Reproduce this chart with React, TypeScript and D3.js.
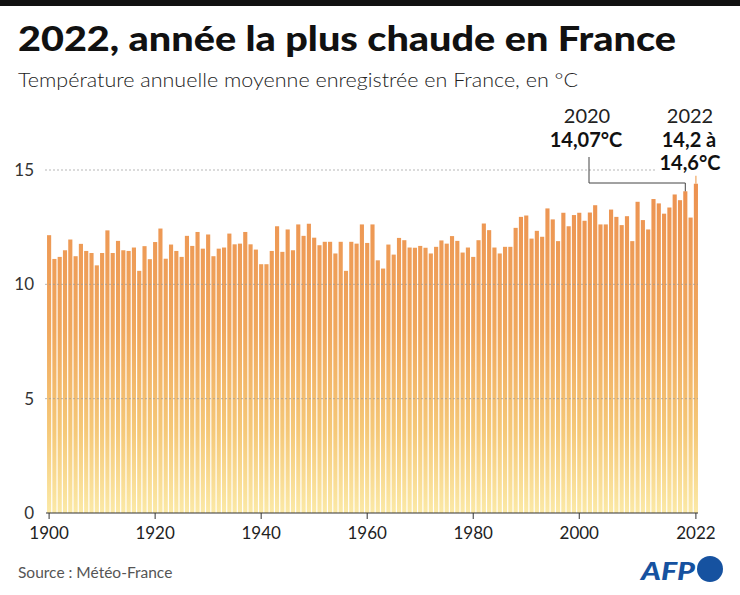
import React from "react";
import * as d3 from "d3";

const years: number[] = d3.range(1900, 2023);
const temps: number[] = [
  12.15, 11.11, 11.2, 11.49, 11.96, 11.23, 11.77, 11.46, 11.37, 10.83,
  11.37, 12.36, 11.37, 11.9, 11.49, 11.46, 11.61, 10.59, 11.67, 11.1,
  11.85, 12.44, 11.12, 11.74, 11.46, 11.2, 12.12, 11.68, 12.29, 11.56,
  12.18, 11.23, 11.56, 11.61, 12.22, 11.75, 11.78, 12.29, 11.75, 11.52,
  10.88, 10.88, 11.46, 12.54, 11.42, 12.4, 11.49, 12.62, 12.12, 12.65,
  12.04, 11.71, 11.86, 11.86, 11.35, 11.86, 10.59, 11.86, 11.78, 12.62,
  11.81, 12.62, 11.05, 10.69, 11.74, 11.3, 12.03, 11.93, 11.61, 11.6,
  11.68, 11.6, 11.35, 11.64, 11.92, 11.78, 12.11, 11.9, 11.39, 11.61,
  11.2, 11.93, 12.66, 12.37, 11.61, 11.35, 11.64, 11.64, 12.47, 12.95,
  13.01, 12.0, 12.34, 12.08, 13.32, 12.84, 11.89, 13.13, 12.54, 13.03,
  13.13, 12.78, 13.14, 13.46, 12.62, 12.62, 13.27, 12.95, 12.59, 12.98,
  11.89, 13.61, 12.81, 12.4, 13.73, 13.54, 13.09, 13.36, 13.93, 13.68,
  14.07, 12.92, 14.4,
];
const yTicks: number[] = [0, 5, 10, 15];
const xTickYears: number[] = [1900, 1920, 1940, 1960, 1980, 2000, 2022];
const range2022Top: number = 14.75;

const W = 740;
const H = 595;

export default function App() {
  const x = d3
    .scaleBand<number>()
    .domain(years)
    .range([46.5, 698.5])
    .paddingInner(0.22)
    .paddingOuter(0.1);
  const y = d3.scaleLinear().domain([0, 15]).range([513, 170]);
  const cx = (yr: number) => (x(yr) as number) + x.bandwidth() / 2;

  const font = "Lato, 'Open Sans', 'DejaVu Sans', sans-serif";
  const i2020 = years.indexOf(2020);
  const x2020 = cx(2020);
  const x2022 = cx(2022);

  return (
    <svg
      width={W}
      height={H}
      viewBox={`0 0 ${W} ${H}`}
      style={{ position: "fixed", left: 0, top: 0, background: "#fff" }}
      fontFamily={font}
    >
      <defs>
        <linearGradient
          id="barGrad"
          gradientUnits="userSpaceOnUse"
          x1={0}
          y1={y(14.5)}
          x2={0}
          y2={y(0)}
        >
          <stop offset="0" stopColor="#ec9150" />
          <stop offset="0.45" stopColor="#f0a85e" />
          <stop offset="0.75" stopColor="#f5c878" />
          <stop offset="1" stopColor="#fbe9a6" />
        </linearGradient>
      </defs>
      <rect x={0} y={0} width={W} height={H} fill="#fff" />
      <rect x={0} y={0} width={W} height={6} fill="#111" />

      <text
        x={18}
        y={51}
        fontSize={34}
        fontWeight={900}
        fill="#111"
        textLength={658}
        lengthAdjust="spacingAndGlyphs"
      >
        2022, année la plus chaude en France
      </text>
      <text
        x={18}
        y={87}
        fontSize={20}
        fontWeight={300}
        fill="#222"
        textLength={560}
        lengthAdjust="spacingAndGlyphs"
      >
        Température annuelle moyenne enregistrée en France, en °C
      </text>

      {/* bars */}
      <g>
        {years.map((yr, i) => (
          <rect
            key={yr}
            x={x(yr)}
            y={y(temps[i])}
            width={x.bandwidth()}
            height={y(0) - y(temps[i])}
            fill="url(#barGrad)"
          />
        ))}
      </g>
      {/* 2022 range indicator */}
      <line
        x1={x2022}
        x2={x2022}
        y1={y(temps[temps.length - 1])}
        y2={y(range2022Top)}
        stroke="#f0a760"
        strokeWidth={1.2}
      />

      {/* gridlines */}
      {yTicks
        .filter((t) => t > 0)
        .map((t) => (
          <line
            key={t}
            x1={45}
            x2={t === 15 ? 657 : 698}
            y1={y(t)}
            y2={y(t)}
            stroke="#999"
            strokeWidth={0.7}
            strokeDasharray="2,2"
          />
        ))}
      {yTicks.map((t) => (
        <text
          key={t}
          x={34}
          y={y(t)}
          dy="0.35em"
          textAnchor="end"
          fontSize={17}
          fill="#333"
        >
          {t}
        </text>
      ))}

      {/* x axis */}
      <line x1={46} x2={698} y1={y(0)} y2={y(0)} stroke="#333" strokeWidth={1} />
      {xTickYears.map((yr) => (
        <g key={yr}>
          <line
            x1={cx(yr)}
            x2={cx(yr)}
            y1={y(0)}
            y2={y(0) + 6}
            stroke="#333"
            strokeWidth={1}
          />
          <text
            x={cx(yr)}
            y={539}
            textAnchor="middle"
            fontSize={17}
            fill="#222"
          >
            {yr}
          </text>
        </g>
      ))}

      {/* annotations */}
      <path
        d={`M${589},${157} V${183} H${x2020} V${y(temps[i2020])}`}
        fill="none"
        stroke="#444"
        strokeWidth={1}
      />
      <text x={587} y={123} textAnchor="middle" fontSize={20} fill="#222">
        2020
      </text>
      <text
        x={586}
        y={147}
        textAnchor="middle"
        fontSize={20}
        fontWeight={700}
        fill="#111"
      >
        14,07°C
      </text>
      <text x={690} y={123} textAnchor="middle" fontSize={20} fill="#222">
        2022
      </text>
      <text
        x={689}
        y={147}
        textAnchor="middle"
        fontSize={20}
        fontWeight={700}
        fill="#111"
      >
        14,2 à
      </text>
      <text
        x={690}
        y={170}
        textAnchor="middle"
        fontSize={20}
        fontWeight={700}
        fill="#111"
      >
        14,6°C
      </text>

      {/* footer */}
      <text x={18} y={578} fontSize={15.5} fill="#555">
        Source : Météo-France
      </text>
      <text
        x={641}
        y={580}
        fontSize={25}
        fontWeight={900}
        fontStyle="italic"
        fill="#1652a0"
        textLength={54}
        lengthAdjust="spacingAndGlyphs"
      >
        AFP
      </text>
      <circle cx={710} cy={569} r={13} fill="#1652a0" />
    </svg>
  );
}
